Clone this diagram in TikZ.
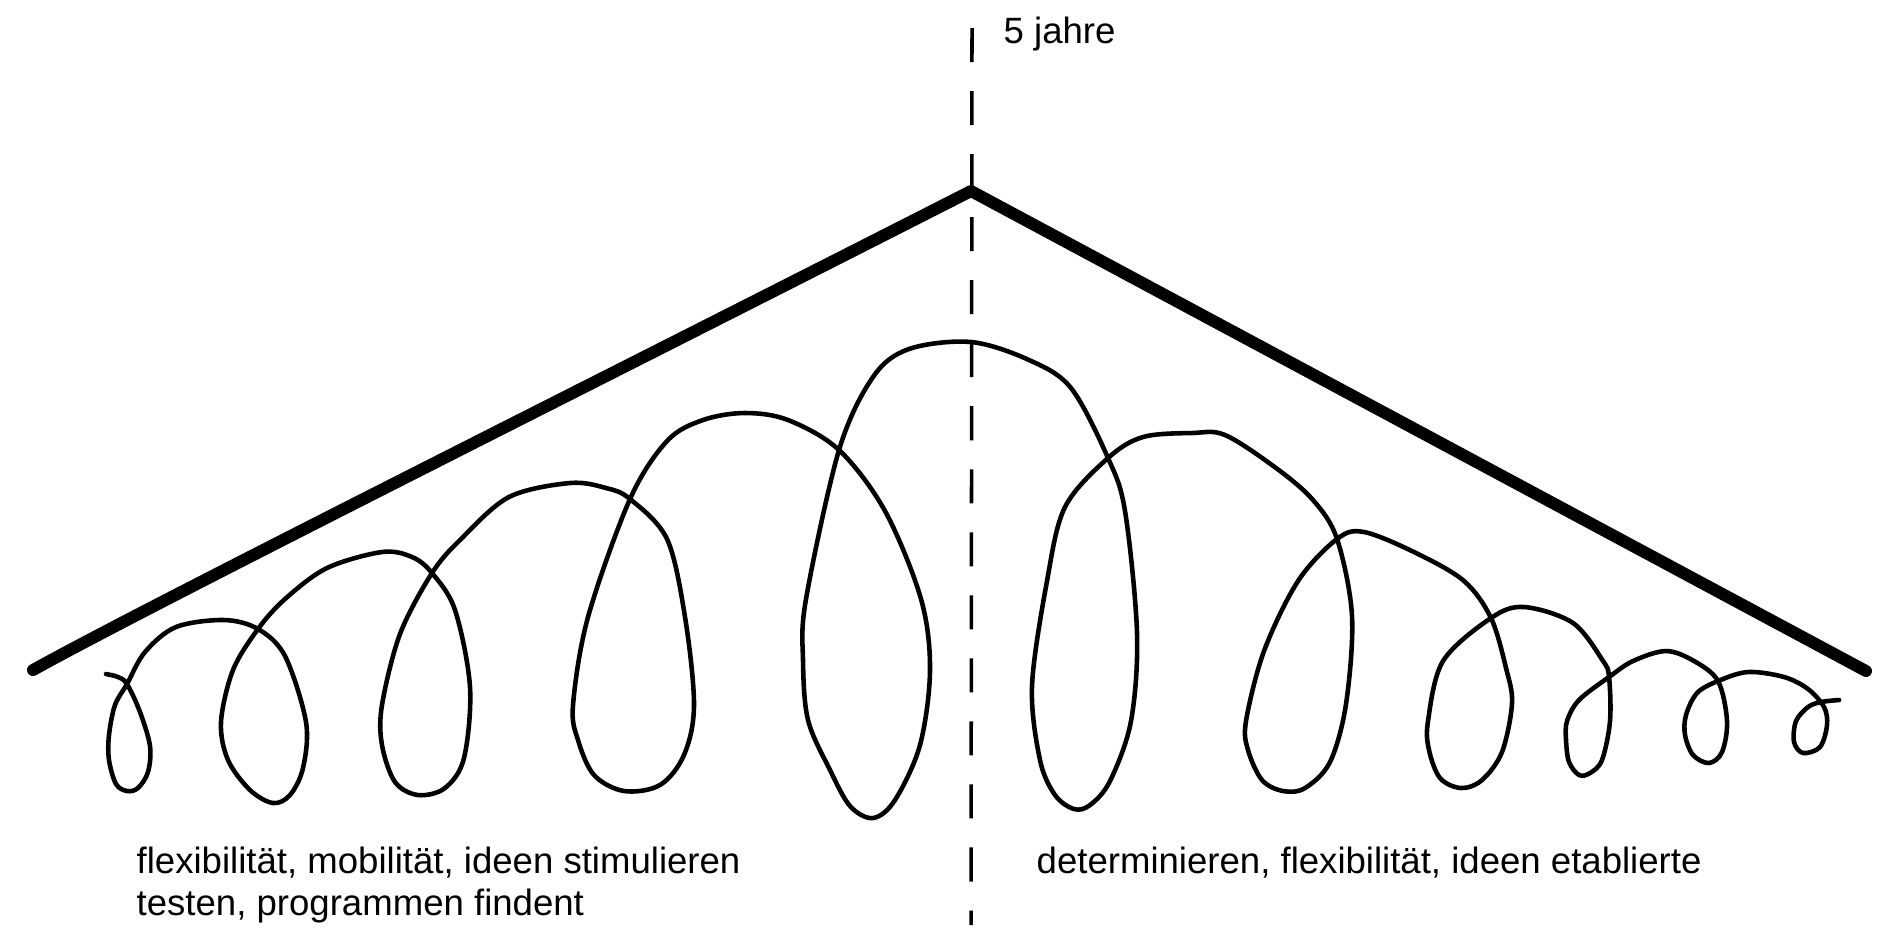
\documentclass[tikz,border=0pt]{standalone}
\usepackage{fontspec}
\setmainfont{Liberation Sans}
\begin{document}
\begin{tikzpicture}[x=0.01cm,y=-0.01cm,
  roof/.style={line width=3.4pt,line cap=round,line join=round},
  spiral/.style={line width=1.3pt,line cap=round,line join=round},
  divider/.style={line width=1pt,dash pattern=on 0.34cm off 0.29cm},
  lbl/.style={font=\fontsize{10.4}{11.4}\selectfont,inner sep=0pt,anchor=base west}]
\useasboundingbox (0,0) rectangle (1898,941);
% coordinates
\coordinate (rl) at (33,670);
\coordinate (peak) at (971,191);
\coordinate (rr) at (1866,671);
\coordinate (dtop) at (972,28);
\coordinate (dbot) at (971,925);
% dashed divider
\draw[divider] (dtop) -- (dbot);
% roof
\draw[roof] (rl) .. controls (150,605) and (600,380) .. (peak) -- (rr);
% spiral
\draw[spiral] plot[smooth,tension=0.55] coordinates {
(106,674) (118,677) (127,684) (140,712) (150,746) (148,772) (138,788) (127,791) (116,784) (109,760) (109,735) (115,705) (127,684)
(145,652) (176,627) (224,620) (258,629) (285,656) (306,722) (303,768) (290,795) (273,803) (250,790) (228,760) (221,722) (233,670) (258,629)
(285,599) (327,568) (382,552) (412,557) (432,573) (455,610) (470,687) (464,758) (445,788) (418,795) (395,782) (382,745) (382,705) (400,634) (432,573)
(461,539) (509,497) (570,483) (606,488) (630,499) (667,539) (685,617) (694,705) (684,755) (660,785) (624,791) (594,775) (578,740) (573,705) (588,617) (630,499)
(667,441) (703,420) (745,413) (788,420) (839,450) (885,511) (921,599) (930,670) (920,745) (895,800) (873,818) (850,806) (830,770) (808,720) (803,660) (806,599) (839,450)
(873,377) (909,349) (971,342) (1029,360) (1071,388) (1108,458) (1125,511) (1137,633) (1131,721) (1110,781) (1090,805) (1074,809) (1055,795) (1040,760) (1032,686) (1047,581) (1065,507) (1108,458)
(1143,437) (1192,433) (1225,435) (1276,468) (1313,500) (1337,539) (1352,616) (1346,704) (1330,762) (1305,788) (1283,791) (1262,780) (1248,750) (1246,721) (1264,651) (1298,581) (1337,539)
(1364,532) (1416,553) (1464,581) (1491,618) (1506,668) (1512,703) (1502,752) (1482,780) (1461,788) (1440,778) (1429,750) (1428,721) (1443,661) (1491,618)
(1524,607) (1573,623) (1603,661) (1609,677) (1610,721) (1602,760) (1590,773) (1579,775) (1569,762) (1566,740) (1567,721) (1579,700) (1609,677)
(1633,661) (1666,651) (1694,661) (1718,681) (1727,721) (1722,752) (1709,763) (1693,755) (1685,735) (1686,715) (1697,693) (1718,681)
(1748,672) (1784,677) (1808,689) (1824,707) (1827,725) (1820,747) (1803,753) (1794,742) (1796,721) (1808,707) (1821,702) (1839,700)};
% labels
\node[lbl] (top) at (1003,43) {5 jahre};
\node[lbl] (l1) at (136,873) {flexibilität, mobilität, ideen stimulieren};
\node[lbl] (l2) at (136,915) {testen, programmen findent};
\node[lbl] (r1) at (1036,873) {determinieren, flexibilität, ideen etablierte};
\end{tikzpicture}
\end{document}
